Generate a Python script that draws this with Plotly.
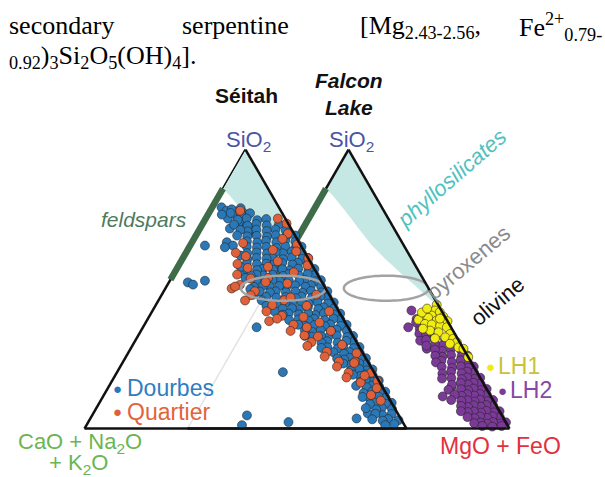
import numpy as np
import plotly.graph_objects as go

# ------------------------------------------------------------------
# Data (ternary values in %, SiO2 = a, CaO+Na2O+K2O = b, MgO+FeO = remainder)
# ------------------------------------------------------------------
dourbes_sio2 = [
    79.3, 78.1, 78.1, 77.4, 75.3, 76.3, 73.9, 71.7, 72.8, 70.4, 71.7, 65.6, 66.8,
    65.6, 65.0, 56.0, 52.4, 51.6, 53.0, 36.3, 20.2, 1.2, 4.7, 2.3, 3.6, 5.4,
    79.0, 78.6,
    77.2, 76.8, 77.3, 76.7,
    75.1, 74.7, 75.3, 74.8,
    73.2, 72.8, 73.3, 72.7, 73.1,
    71.0, 71.4, 70.8, 71.3, 70.7, 71.2,
    69.2, 68.8, 69.3, 68.7, 69.1, 68.9, 69.2,
    67.0, 67.4, 66.8, 67.3, 66.7, 67.1,
    65.2, 64.8, 65.3, 64.7, 65.1, 64.9, 65.2,
    63.0, 63.4, 62.8, 63.3, 62.7, 63.1, 62.9,
    61.2, 60.8, 61.3, 60.7, 61.1, 60.9, 61.2, 60.8,
    59.0, 59.4, 58.8, 59.3, 58.7, 59.1, 58.9, 59.2,
    57.2, 56.8, 57.3, 56.7, 57.1, 56.9, 57.2, 56.8, 57.1,
    55.0, 55.4, 54.8, 55.3, 54.7, 55.1, 54.9, 55.2, 54.8,
    53.2, 52.8, 53.3, 52.7, 53.1, 52.9, 53.2, 52.8, 53.1,
    51.0, 51.4, 50.8, 51.3, 50.7, 51.1, 50.9, 51.2, 50.8,
    49.2, 48.8, 49.3, 48.7, 49.1, 48.9, 49.2, 48.8, 49.1,
    47.0, 47.4, 46.8, 47.3, 46.7, 47.1, 46.9, 47.2,
    45.2, 44.8, 45.3, 44.7, 45.1, 44.9, 45.2, 44.8,
    43.0, 43.4, 42.8, 43.3, 42.7, 43.1, 42.9,
    41.2, 40.8, 41.3, 40.7, 41.1, 40.9, 41.2, 40.8,
    39.0, 39.4, 38.8, 39.3, 38.7, 39.1, 38.9,
    37.2, 36.8, 37.3, 36.7, 37.1, 36.9, 37.2,
    35.0, 35.4, 34.8, 35.3, 34.7, 35.1,
    33.2, 32.8, 33.3, 32.7, 33.1, 32.9, 33.2,
    31.0, 31.4, 30.8, 31.3, 30.7,
    29.2, 28.8, 29.3, 28.7, 29.1, 28.9,
    27.0, 27.4, 26.8, 27.3,
    25.2, 24.8, 25.3, 24.7, 25.1,
    23.0, 23.4, 22.8, 23.3,
    21.2, 20.8, 21.3, 20.7,
    19.0, 19.4, 18.8, 19.3,
    17.2, 16.8, 17.3, 16.7,
    15.0, 15.4, 14.8, 15.3,
    13.2, 12.8, 13.3, 12.7,
    11.0, 11.4, 10.8, 11.3,
    9.2, 8.8, 9.3, 8.7,
    7.0, 7.4, 6.8, 7.3,
    5.2, 4.8, 5.3,
    3.0, 3.4, 2.8, 3.3,
    1.6, 1.2,
    58.0, 54.0, 50.0, 46.0, 42.0, 62.0, 44.0, 48.0,
]
dourbes_alk = [
    17.8, 16.8, 14.8, 12.1, 17.8, 14.5, 14.8, 19.0, 13.2, 13.4, 11.8, 29.8, 22.4,
    21.1, 23.9, 23.2, 41.7, 40.5, 36.1, 28.4, 28.3, 50.5, 47.2, 35.5, 13.7, 9.3,
    12, 15,
    10, 13, 16, 19,
    6, 9, 12, 15,
    3, 7, 10, 13, 17,
    2, 5, 8, 11, 14, 16,
    0, 3, 6, 9, 12, 15, 18,
    1, 4, 7, 10, 13, 16,
    0, 2, 5, 8, 11, 14, 17,
    1, 4, 7, 9, 12, 15, 18,
    0, 2, 5, 8, 11, 13, 16, 19,
    1, 4, 6, 9, 12, 14, 17, 20,
    0, 2, 5, 8, 10, 13, 16, 18, 21,
    1, 3, 6, 9, 11, 14, 17, 19, 21,
    0, 2, 5, 7, 10, 13, 15, 18, 20,
    1, 4, 6, 9, 12, 14, 17, 19, 22,
    0, 2, 5, 8, 10, 13, 16, 18, 21,
    1, 3, 6, 9, 11, 14, 17, 20,
    0, 2, 5, 8, 10, 13, 15, 18,
    1, 4, 6, 9, 12, 14, 17,
    0, 2, 5, 8, 10, 13, 16, 18,
    1, 3, 6, 9, 11, 14, 17,
    0, 2, 5, 7, 10, 13, 15,
    1, 4, 6, 9, 12, 14,
    0, 2, 5, 8, 10, 13, 15,
    1, 3, 6, 9, 11,
    0, 2, 5, 7, 10, 12,
    1, 4, 6, 9,
    0, 2, 5, 7, 9,
    1, 3, 6, 8,
    0, 2, 4, 7,
    1, 3, 5, 7,
    0, 2, 4, 6,
    1, 3, 5, 8,
    0, 2, 4, 7,
    1, 3, 6, 8,
    0, 2, 5, 7,
    1, 4, 6, 9,
    2, 5, 7,
    1, 4, 6, 9,
    3, 6,
    22.5, 23.0, 23.5, 22.0, 20.0, 20.5, 21.5, 23.5,
]

quartier_sio2 = [
    78.1, 75.3, 73.5, 69.9, 68.0, 66.0, 63.5, 61.0, 58.5,
    66.5, 63.0, 61.8, 59.0, 57.6, 55.2, 53.8, 51.5, 49.2, 47.8, 45.9, 50.2, 50.9,
    44.3, 42.0, 40.4, 38.5, 39.4, 37.2, 35.0, 33.4, 31.0, 29.6, 27.5, 25.8, 24.0,
    22.2, 20.0, 18.3, 16.5, 36.3,
    60.0, 56.0, 54.0, 52.0, 48.0, 46.0, 44.0, 42.0, 40.0, 35.0, 30.0, 27.0, 24.0,
    20.0, 12.0, 10.0, 64.0, 58.0, 52.5, 47.0, 38.0, 33.0,
    23.5, 19.0, 17.0, 14.5,
]
quartier_alk = [
    12.6, 2.3, 0.5, 1.9, 4.5, 1.0, 2.5, 0.0, 1.5,
    17.5, 21.5, 19.0, 23.0, 20.5, 25.0, 21.5, 26.0, 22.5, 24.5, 27.2, 29.2, 27.8,
    19.5, 22.5, 18.5, 23.4, 20.5, 16.5, 18.5, 15.0, 14.0, 16.0, 11.0, 12.5, 9.0,
    10.5, 8.0, 9.5, 6.0, 12.8,
    10.0, 7.0, 16.0, 11.0, 4.0, 15.0, 9.0, 3.0, 12.0, 6.0, 5.0, 2.0, 4.0,
    1.0, 5.0, 3.0, 9.5, 14.0, 17.5, 12.5, 8.0, 11.0,
    4.5, 3.5, 0.5, 2.0,
]

lh1_sio2 = [44.4, 42.3, 41.7, 40.5, 40.1, 39.7, 39.7, 39.0, 38.7, 38.5, 37.5, 37.3,
            36.9, 36.3, 35.1, 34.5, 33.9, 32.7, 32.2, 30.9, 30.4, 29.1, 28.6, 25.6,
            41.6, 43.0, 39.4, 35.8, 32.3]
lh1_alk = [0.4, 2.0, 0.8, 3.9, 0.5, 7.0, 5.4, 8.8, 3.3, 0.0, 7.5, 5.5,
           3.1, 1.3, 7.1, 4.8, 1.5, 3.6, 1.4, 0.9, 3.3, 1.3, 0.0, 0.0,
           6.4, 4.1, 1.9, 9.0, 7.0]

lh2_sio2 = [
    42.3, 39.3, 36.3, 35.7, 28.6, 26.2, 11.5, 14.8, 38.0, 36.0, 34.0, 33.0, 31.5,
    34.2, 33.8,
    32.0, 32.4, 31.8,
    30.2, 29.8, 30.3, 29.7,
    28.0, 28.4, 27.8, 28.3,
    26.2, 25.8, 26.3, 25.7, 26.1,
    24.0, 24.4, 23.8, 24.3, 23.7,
    22.2, 21.8, 22.3, 21.7, 22.1,
    20.0, 20.4, 19.8, 20.3, 19.7,
    18.2, 17.8, 18.3, 17.7, 18.1, 17.9,
    16.0, 16.4, 15.8, 16.3, 15.7,
    14.2, 13.8, 14.3, 13.7, 14.1, 13.9,
    12.0, 12.4, 11.8, 12.3, 11.7, 12.1,
    10.2, 9.8, 10.3, 9.7, 10.1, 9.9, 10.2,
    8.0, 8.4, 7.8, 8.3, 7.7, 8.1,
    6.2, 5.8, 6.3, 5.7, 6.1, 5.9, 6.2,
    4.0, 4.4, 3.8, 4.3, 3.7, 4.1,
    2.2, 1.8, 2.3, 1.7, 2.1, 1.9,
    0.9, 0.7, 0.9,
]
lh2_alk = [
    9.3, 9.2, 13.3, 10.0, 11.4, 9.0, 15.0, 10.6, 10.0, 8.0, 11.0, 8.0, 12.0,
    6, 9,
    4, 7, 10,
    3, 6, 8, 11,
    1, 4, 7, 9,
    0, 2, 5, 8, 10,
    1, 3, 6, 9, 11,
    0, 2, 4, 7, 10,
    1, 3, 5, 8, 11,
    0, 2, 4, 6, 9, 12,
    1, 3, 5, 7, 10,
    0, 2, 4, 6, 8, 12,
    1, 3, 5, 7, 9, 11,
    0, 2, 4, 6, 8, 10, 13,
    1, 3, 5, 7, 9, 11,
    0, 2, 4, 6, 8, 10, 12,
    1, 3, 5, 7, 9, 11,
    0, 2, 4, 6, 8, 10,
    2, 5, 8,
]

# mineral fields
phyllo_sio2 = [86.0, 83.5, 78.1, 71.0, 65.6, 60.9, 55.9, 51.3, 47.0, 43.5, 100.0, 86.0]
phyllo_alk = [14.0, 13.1, 12.0, 10.9, 9.9, 8.2, 6.05, 3.7, 1.8, 0.0, 0.0, 14.0]
feldspar_sio2 = [86.0, 53.4]          # segment along the SiO2 - (CaO+Na2O+K2O) join
pyroxene_sio2, pyroxene_mgfe = 50.3, 36.6   # centre of the pyroxene field
pyroxene_half_width, pyroxene_half_height = 13.2, 4.5
olivine_sio2 = 34.5

# ------------------------------------------------------------------
FIG_W, FIG_H = 605, 477
TRI_W = 322.0
TRI_H = TRI_W * np.sqrt(3) / 2
BASE_Y = 428.5
LEFT_X0, RIGHT_X0 = 84.5, 187.5


def domain(x0):
    cx = (x0 + TRI_W / 2) / FIG_W
    cy = 1 - (BASE_Y - TRI_H / 2) / FIG_H
    hw = TRI_W / 2 / FIG_W
    return dict(x=[cx - hw, cx + hw], y=[cy - 0.31, cy + 0.31])


def axis(color, width, layer='above traces'):
    return dict(showline=True, linecolor=color, linewidth=width, showgrid=False,
                showticklabels=False, ticks='', title=dict(text=''), min=0, layer=layer)


BLUE, ORANGE, YELLOW, PURPLE = '#2a78b8', '#e0603a', '#f1ec12', '#7b3a98'
GREEN = '#3e6b48'
SHADE = '#c6e8e5'
OUTLINE = dict(color='rgba(35,35,35,0.8)', width=0.7)
MSIZE = 9

fig = go.Figure()

# pyroxene ellipse outline in ternary space
t = np.linspace(0, 2 * np.pi, 90)
ell_a = pyroxene_sio2 + pyroxene_half_height * np.sin(t)
ell_c = pyroxene_mgfe + pyroxene_half_width * np.cos(t) - pyroxene_half_height * np.sin(t) / 2
ell_b = 100 - ell_a - ell_c

# feldspar bar (drawn as a rotated line marker so it straddles the edge)
fs_mid = (feldspar_sio2[0] + feldspar_sio2[1]) / 2
fs_len = (feldspar_sio2[0] - feldspar_sio2[1]) / 100 * TRI_H / np.sin(np.pi / 3)
apex_mid = (100 + feldspar_sio2[0]) / 2
apex_len = (100 - feldspar_sio2[0]) / 100 * TRI_H / np.sin(np.pi / 3)
# olivine tick just outside the MgO+FeO - SiO2 join
tick_off = 8 / TRI_H * 100


def add_fill(sub):
    fig.add_trace(go.Scatterternary(a=phyllo_sio2, b=phyllo_alk, mode='lines', fill='toself',
                                    fillcolor=SHADE, line=dict(width=0), subplot=sub,
                                    hoverinfo='skip', showlegend=False))


def add_bar(sub, right):
    if right:
        fig.add_trace(go.Scatterternary(a=[apex_mid], b=[100 - apex_mid], mode='markers', subplot=sub,
                                        cliponaxis=False, hoverinfo='skip', showlegend=False,
                                        marker=dict(symbol='line-ns', size=apex_len / 1.4, angle=30,
                                                    line=dict(color='#111111', width=2.5))))
    fig.add_trace(go.Scatterternary(a=[fs_mid], b=[100 - fs_mid], mode='markers', subplot=sub,
                                    cliponaxis=False, hoverinfo='skip', showlegend=False,
                                    marker=dict(symbol='line-ns', size=fs_len / 1.4, angle=30,
                                                line=dict(color=GREEN, width=6.5))))


def add_olivine(sub):
    fig.add_trace(go.Scatterternary(a=[olivine_sio2 + tick_off / 2], b=[-tick_off], mode='markers',
                                    subplot=sub, cliponaxis=False, hoverinfo='skip', showlegend=False,
                                    marker=dict(symbol='line-ew', size=12, angle=-33,
                                                line=dict(color='#111111', width=4.5))))


def add_ellipse(sub):
    fig.add_trace(go.Scatterternary(a=ell_a, b=ell_b, mode='lines', subplot=sub,
                                    line=dict(color='#a3a3a3', width=2.5), hoverinfo='skip',
                                    showlegend=False))


# right triangle (Falcon Lake) -> ternary
add_fill('ternary')
add_ellipse('ternary')
fig.add_trace(go.Scatterternary(a=lh2_sio2, b=lh2_alk, mode='markers', subplot='ternary',
                                cliponaxis=False, showlegend=False, name='LH2',
                                marker=dict(size=MSIZE, color=PURPLE, line=OUTLINE)))
fig.add_trace(go.Scatterternary(a=lh1_sio2, b=lh1_alk, mode='markers', subplot='ternary',
                                cliponaxis=False, showlegend=False, name='LH1',
                                marker=dict(size=MSIZE, color=YELLOW, line=OUTLINE)))
add_olivine('ternary')
add_bar('ternary', True)

# left triangle (Séitah) -> ternary2
add_fill('ternary2')
add_bar('ternary2', False)
fig.add_trace(go.Scatterternary(a=dourbes_sio2, b=dourbes_alk, mode='markers', subplot='ternary2',
                                cliponaxis=False, showlegend=False, name='Dourbes',
                                marker=dict(size=MSIZE, color=BLUE, line=OUTLINE)))
fig.add_trace(go.Scatterternary(a=quartier_sio2, b=quartier_alk, mode='markers', subplot='ternary2',
                                cliponaxis=False, showlegend=False, name='Quartier',
                                marker=dict(size=MSIZE, color=ORANGE, line=OUTLINE)))
add_ellipse('ternary2')
add_olivine('ternary2')

fig.update_layout(
    width=FIG_W, height=FIG_H, margin=dict(l=0, r=0, t=0, b=0),
    paper_bgcolor='white', plot_bgcolor='white',
    ternary=dict(sum=100, bgcolor='rgba(0,0,0,0)', domain=domain(RIGHT_X0),
                 aaxis=axis('#e3e3e3', 1.5, 'below traces'),
                 baxis=axis('#111111', 2.5), caxis=axis('#111111', 2.5)),
    ternary2=dict(sum=100, bgcolor='rgba(0,0,0,0)', domain=domain(LEFT_X0),
                  aaxis=axis('#111111', 2.5, 'below traces'),
                  baxis=axis('#111111', 2.5), caxis=axis('#111111', 2.5)),
)

SANS = 'Liberation Sans, Arial, sans-serif'
SERIF = 'Liberation Serif, Times New Roman, serif'
anns = []


def ann(text, x, y, size, color='#111111', xanchor='center', angle=0, family=SANS, yanchor='middle'):
    anns.append(dict(text=text, x=x / FIG_W, y=1 - y / FIG_H, xref='paper', yref='paper',
                     xanchor=xanchor, yanchor=yanchor, showarrow=False, textangle=angle,
                     font=dict(family=family, size=size, color=color)))


# paper text above the figure
ann('secondary', 7, 25, 26, '#000000', 'left', family=SERIF)
ann('serpentine', 180, 25, 26, '#000000', 'left', family=SERIF)
ann('[Mg<sub>2.43-2.56</sub>,', 358, 27, 26, '#000000', 'left', family=SERIF)
ann('Fe<sup>2+</sup><sub>0.79-</sub>', 604, 27, 26, '#000000', 'right', family=SERIF)
ann('<sub>0.92</sub>)<sub>3</sub>Si<sub>2</sub>O<sub>5</sub>(OH)<sub>4</sub>].', 7, 57, 26,
    '#000000', 'left', family=SERIF)

ann('<b>Séitah</b>', 246.5, 95, 21)
ann('<b><i>Falcon</i></b><br><b><i>Lake</i></b>', 349, 94, 21)
ann('SiO<sub>2</sub>', 248, 141, 22, '#4a55a5')
ann('SiO<sub>2</sub>', 351.5, 141, 22, '#4a55a5')
ann('<i>feldspars</i>', 144, 219, 21, '#4d7a5b')
ann('<i>phyllosilicates</i>', 451, 178, 22, '#4fc2bf', angle=-41)
ann('pyroxenes', 468, 262, 22, '#8a8a8a', angle=-40)
ann('olivine', 497, 301, 22, '#111111', angle=-40)

ann('●', 117, 388, 15, BLUE)
ann('Dourbes', 125, 388, 23, '#2f7ec2', 'left')
ann('●', 117, 411.5, 15, ORANGE)
ann('Quartier', 125, 411.5, 23, '#e3633b', 'left')
ann('●', 490, 366, 15, '#f0ea10')
ann('LH1', 496, 366, 23, '#c8c23a', 'left')
ann('●', 502, 390, 15, PURPLE)
ann('LH2', 508, 390, 23, '#8747a4', 'left')

ann('CaO + Na<sub>2</sub>O', 80, 443, 22, '#6bb552')
ann('+ K<sub>2</sub>O', 78, 464, 22, '#6bb552')
ann('MgO + FeO', 500, 446, 23, '#e2303e')

fig.update_layout(annotations=anns)

fig.write_html('out.html', config={'displayModeBar': False},
               post_script="document.body.style.margin='0';")
